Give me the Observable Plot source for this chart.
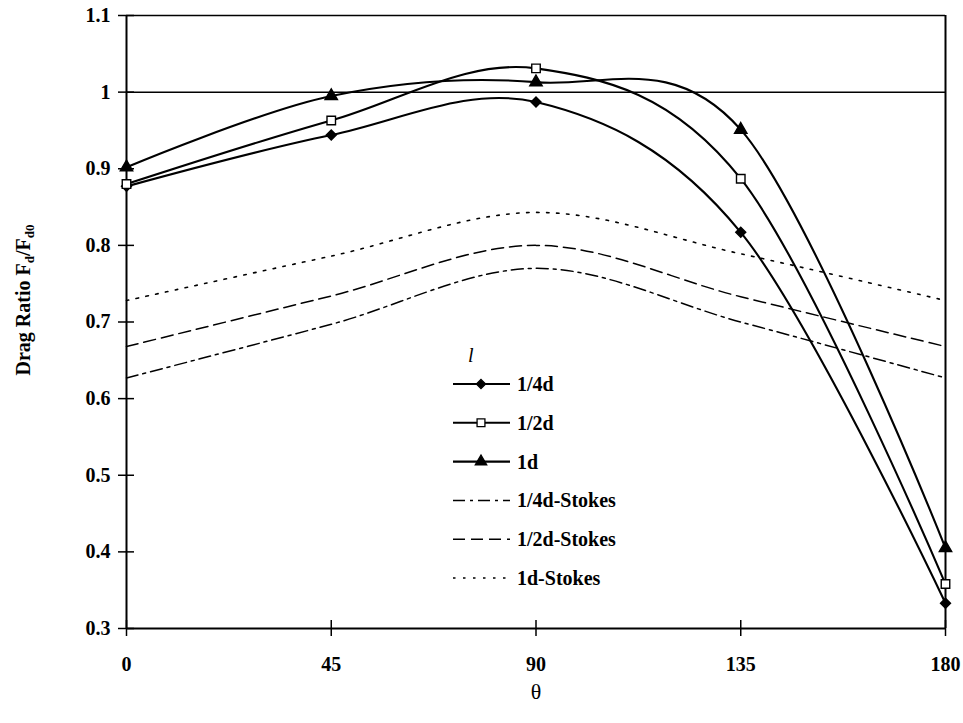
<!DOCTYPE html>
<html>
<head>
<meta charset="utf-8">
<script src="https://cdn.jsdelivr.net/npm/d3@7"></script>
<script src="https://cdn.jsdelivr.net/npm/@observablehq/plot@0.6"></script>
<style>
  html, body { margin: 0; padding: 0; background: white; }
  #chart { width: 963px; height: 723px; }
</style>
</head>
<body>
<div id="chart"></div>
<script>
const theta = [0, 45, 90, 135, 180];
const xTicks = [0, 45, 90, 135, 180];
const yTicks = [0.3, 0.4, 0.5, 0.6, 0.7, 0.8, 0.9, 1, 1.1];

const quarterD = [0.877, 0.944, 0.987, 0.817, 0.333];
const halfD = [0.880, 0.963, 1.031, 0.887, 0.358];
const oneD = [0.902, 0.995, 1.013, 0.951, 0.405];
const quarterStokes = [0.627, 0.697, 0.770, 0.700, 0.627];
const halfStokes = [0.668, 0.734, 0.800, 0.733, 0.668];
const oneStokes = [0.728, 0.786, 0.843, 0.789, 0.728];

const seriesNames = ["1/4d", "1/2d", "1d", "1/4d-Stokes", "1/2d-Stokes", "1d-Stokes"];
const seriesValues = [quarterD, halfD, oneD, quarterStokes, halfStokes, oneStokes];

const styles = {
  "1/4d": {symbol: "diamond2", fill: "black", width: 2.1, dash: null, r: 4.5},
  "1/2d": {symbol: "square", fill: "white", width: 2.1, dash: null, r: 4.8},
  "1d": {symbol: "triangle", fill: "black", width: 2.1, dash: null, r: 4.6},
  "1/4d-Stokes": {symbol: null, width: 1.5, dash: "12,5,3,5"},
  "1/2d-Stokes": {symbol: null, width: 1.5, dash: "12,6"},
  "1d-Stokes": {symbol: null, width: 1.6, dash: "2.5,7.5"}
};

const rows = seriesNames.map((name, i) => theta.map((t, j) => ({series: name, theta: t, ratio: seriesValues[i][j]})));

const marks = [
  Plot.ruleY([1.1], {stroke: "black", strokeWidth: 1.5}),
  Plot.ruleY([1.0], {stroke: "black", strokeWidth: 1.5}),
  Plot.ruleX([180], {stroke: "black", strokeWidth: 2}),
  Plot.ruleY([0.3], {stroke: "black", strokeWidth: 2}),
  Plot.ruleX([0], {stroke: "black", strokeWidth: 2}),
  Plot.axisY({ticks: yTicks, tickSize: 16, dx: 8, text: null, strokeWidth: 1.5}),
  Plot.axisY({ticks: yTicks, tickSize: 0, tickPadding: 16, tickFormat: d => String(+d.toFixed(1)), fontSize: 20, fontWeight: "bold"}),
  Plot.axisX({ticks: xTicks, tickSize: 16, dy: -8, text: null, strokeWidth: 1.5}),
  Plot.axisX({ticks: xTicks, tickSize: 0, tickPadding: 28, fontSize: 20, fontWeight: "bold"})
];

seriesNames.forEach((name, i) => {
  const s = styles[name];
  marks.push(Plot.line(rows[i], {x: "theta", y: "ratio", curve: "cardinal", stroke: "black", strokeWidth: s.width, strokeDasharray: s.dash}));
});
seriesNames.forEach((name, i) => {
  const s = styles[name];
  if (s.symbol) {
    marks.push(Plot.dot(rows[i], {x: "theta", y: "ratio", symbol: () => s.symbol, fill: s.fill, stroke: "black", strokeWidth: 1.4, r: s.r}));
  }
});

const chart = Plot.plot({
  width: 963,
  height: 723,
  marginLeft: 126,
  marginRight: 18,
  marginTop: 15,
  marginBottom: 95,
  x: {domain: [0, 180], label: null},
  y: {domain: [0.3, 1.1], label: null},
  symbol: {type: "identity"},
  style: {fontFamily: "'Liberation Serif', 'Times New Roman', serif", background: "white", color: "black", overflow: "visible"},
  marks
});
document.getElementById("chart").appendChild(chart);

const svg = d3.select(chart);
const font = "'Liberation Serif', 'Times New Roman', serif";

// y-axis label
const yl = svg.append("text")
  .attr("transform", "translate(30,300) rotate(-90)")
  .attr("text-anchor", "middle")
  .attr("font-family", font).attr("font-weight", "bold").attr("font-size", 20).attr("fill", "black");
yl.append("tspan").text("Drag Ratio F");
yl.append("tspan").attr("font-size", 13).attr("dy", 4).text("d");
yl.append("tspan").attr("dy", -4).text("/F");
yl.append("tspan").attr("font-size", 13).attr("dy", 4).text("d0");

// x-axis label
svg.append("text").attr("x", 536).attr("y", 699).attr("text-anchor", "middle")
  .attr("font-family", font).attr("font-size", 22).attr("fill", "black").text("θ");

// legend
const lg = svg.append("g").attr("font-family", font).attr("fill", "black").attr("text-anchor", "start");
lg.append("text").attr("x", 468).attr("y", 362).attr("font-style", "italic").attr("font-size", 20).text("l");
seriesNames.forEach((name, i) => {
  const s = styles[name];
  const y = 384 + i * 38.8;
  lg.append("line").attr("x1", 453).attr("x2", 510).attr("y1", y).attr("y2", y)
    .attr("stroke", "black").attr("stroke-width", s.width).attr("stroke-dasharray", s.dash);
  if (s.symbol) {
    const sym = {diamond2: d3.symbolDiamond2, square: d3.symbolSquare, triangle: d3.symbolTriangle}[s.symbol];
    lg.append("path").attr("transform", `translate(481,${y})`)
      .attr("d", d3.symbol(sym, Math.PI * s.r * s.r * 0.85)())
      .attr("fill", s.fill).attr("stroke", "black").attr("stroke-width", 1.3);
  }
  lg.append("text").attr("x", 517).attr("y", y + 7).attr("font-size", 20).attr("font-weight", "bold").text(name);
});
</script>
</body>
</html>
